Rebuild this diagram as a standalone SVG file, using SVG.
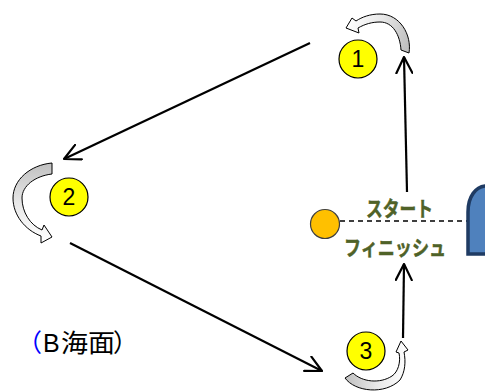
<svg xmlns="http://www.w3.org/2000/svg" width="485" height="392" viewBox="0 0 485 392">
<style>
.num{font-family:"Liberation Sans",Arial,sans-serif;font-size:23px;fill:#000;text-anchor:middle}
.mark{fill:#FFFF00;stroke:#000;stroke-width:1.2}
.conn{stroke:#000;stroke-width:2.2;fill:none;marker-end:url(#open)}
.curl{stroke:#000;stroke-width:1;stroke-linejoin:round}
.jp{font-family:"Noto Sans CJK JP",sans-serif;font-size:21px;font-weight:bold;fill:#4F6228;stroke:#4F6228;stroke-width:0.5}
.lbl{font-family:"Noto Sans CJK JP",sans-serif;font-size:25px;fill:#000}
</style>
<defs>
<marker id="open" viewBox="0 0 18 18" refX="17" refY="9" markerWidth="18" markerHeight="18" markerUnits="userSpaceOnUse" orient="auto">
<path d="M1,1 L17,9 L1,17" fill="none" stroke="#000" stroke-width="2.2" stroke-linecap="round" stroke-linejoin="round"/>
</marker>
<linearGradient id="g1" x1="1" y1="0.6" x2="0" y2="0.4"><stop offset="0" stop-color="#C0C0C0"/><stop offset="0.5" stop-color="#E8E8E8"/><stop offset="1" stop-color="#FFFFFF"/></linearGradient>
<linearGradient id="g2" x1="0" y1="0" x2="0" y2="1"><stop offset="0" stop-color="#C0C0C0"/><stop offset="0.5" stop-color="#E8E8E8"/><stop offset="1" stop-color="#FFFFFF"/></linearGradient>
<linearGradient id="g3" x1="0" y1="0.5" x2="1" y2="0.5"><stop offset="0" stop-color="#C0C0C0"/><stop offset="0.5" stop-color="#E8E8E8"/><stop offset="1" stop-color="#FFFFFF"/></linearGradient>
</defs>
<rect width="485" height="392" fill="#FFFFFF"/>
<g id="connectors">
<line class="conn" x1="310" y1="43" x2="64" y2="159"/>
<line class="conn" x1="70" y1="243" x2="322" y2="371"/>
<line class="conn" x1="407" y1="192" x2="404" y2="57"/>
<line class="conn" x1="403" y1="338" x2="404" y2="264"/>
<line x1="340" y1="221" x2="467" y2="221" stroke="#000" stroke-width="1.3" stroke-dasharray="5,4"/>
</g>
<g id="node-1">
<path class="curl" fill="url(#g1)" d="M401,50 L409,53 C412,35 400,14 380,14 C370,14 362,17 356,21 L352,18 L346,28 L359,33 L358,28 C365,24 372,22 380,22 C393,22 400,35 401,50 Z"/>
<circle class="mark" cx="358" cy="59" r="19"/>
<text class="num" x="358" y="67">1</text>
</g>
<g id="node-2">
<path class="curl" fill="url(#g2)" d="M52,163 C30,165 13,180 13,198 C13,215 25,230 41,236 L41,243 L52,237 L44,225 L42,230 C30,225 22,212 22,198 C22,186 35,176 52,174 Z"/>
<circle class="mark" cx="69" cy="197" r="19"/>
<text class="num" x="69" y="205">2</text>
</g>
<g id="node-3">
<path class="curl" fill="url(#g3)" d="M345,378 C355,392 385,395 400,380 C405,372 406,362 404,352 L408,350 L401,341 L396,352 L399,353 C401,362 398,372 392,376 C380,384 362,382 353,373 Z"/>
<circle class="mark" cx="366" cy="351" r="19"/>
<text class="num" x="366" y="359">3</text>
</g>
<g id="start-marker">
<circle cx="325" cy="224" r="14.5" fill="#FFC000" stroke="#3F3F3F" stroke-width="1.2"/>
</g>
<g id="gate">
<path d="M468,254 L468,212 C468,196 476,187 485,186 C494,187 502,196 502,212 L502,254 Z" fill="#4F81BD" stroke="#1F3B63" stroke-width="3.5"/>
</g>
<g id="labels">
<text class="jp" x="366" y="216" textLength="67" lengthAdjust="spacingAndGlyphs">スタート</text>
<text class="jp" x="344" y="255" textLength="102" lengthAdjust="spacingAndGlyphs">フィニッシュ</text>
<text class="lbl" y="352"><tspan x="17" fill="#0000FF">（</tspan><tspan x="43" font-family="'Liberation Sans',sans-serif">B</tspan><tspan x="61" textLength="54" lengthAdjust="spacingAndGlyphs">海面</tspan><tspan x="113">）</tspan></text>
</g>
</svg>
